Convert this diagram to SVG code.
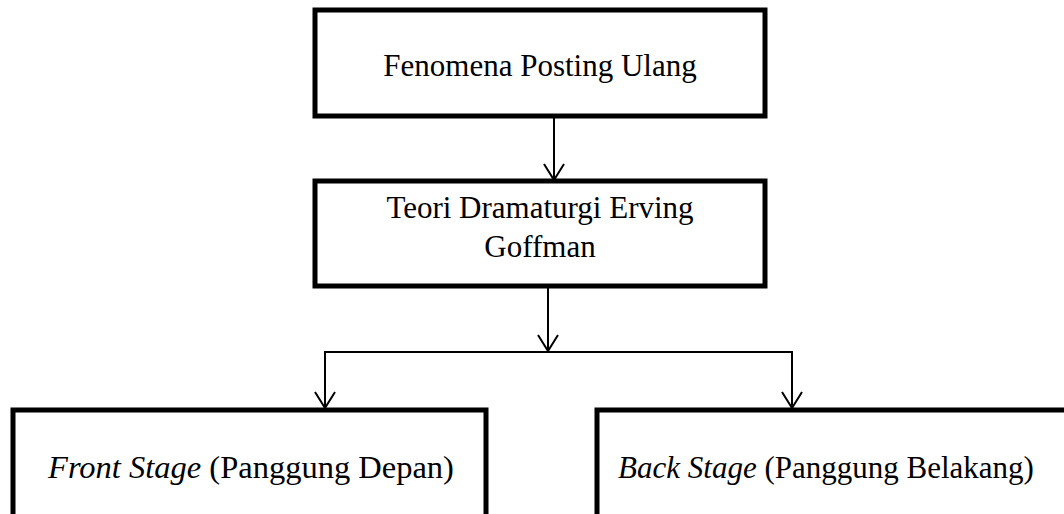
<svg xmlns="http://www.w3.org/2000/svg" width="1064" height="514" viewBox="0 0 1064 514">
<defs>
<style>
.box{fill:#fff;stroke:#000;stroke-width:5}
.t{font-family:"Liberation Serif","Times New Roman",serif;font-size:31px;fill:#000;text-anchor:middle}
.i{font-style:italic}
.c{fill:none;stroke:#000;stroke-width:2}
</style>
<marker id="ah" markerWidth="18" markerHeight="22" viewBox="0 0 18 22" refX="17" refY="11" orient="auto" markerUnits="userSpaceOnUse">
<path d="M1,1 L17,11 L1,21" fill="none" stroke="#000" stroke-width="2"/>
</marker>
</defs>
<rect width="1064" height="514" fill="#fff"/>
<g id="connectors">
<path class="c" d="M554,116 V180" marker-end="url(#ah)"/>
<path class="c" d="M548,286 V351" marker-end="url(#ah)"/>
<path class="c" d="M325,408 V352 H792 V408"/>
<path class="c" d="M325,352 V408" marker-end="url(#ah)"/>
<path class="c" d="M792,352 V408" marker-end="url(#ah)"/>
</g>
<g id="n1">
<rect class="box" x="315" y="10" width="450" height="106"/>
<text class="t" x="540" y="76">Fenomena Posting Ulang</text>
</g>
<g id="n2">
<rect class="box" x="315" y="181" width="450" height="105"/>
<text class="t" x="540" y="218">Teori Dramaturgi Erving</text>
<text class="t" x="540" y="257">Goffman</text>
</g>
<g id="n3">
<rect class="box" x="13" y="410" width="473" height="120"/>
<text class="t" x="251" y="478" style="font-size:32.5px"><tspan class="i">Front Stage</tspan> (Panggung Depan)</text>
</g>
<g id="n4">
<rect class="box" x="597" y="410" width="480" height="120"/>
<text class="t" x="826" y="478"><tspan class="i">Back Stage</tspan> (Panggung Belakang)</text>
</g>
</svg>
